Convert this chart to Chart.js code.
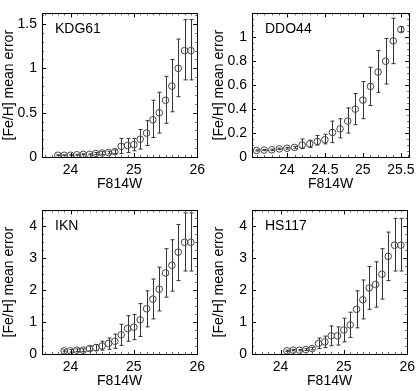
<!DOCTYPE html>
<html>
<head>
<meta charset="utf-8">
<script src="https://cdn.jsdelivr.net/npm/chart.js@4.4.1/dist/chart.umd.min.js"></script>
<style>
    html, body { margin: 0; padding: 0; background: #fff; overflow: hidden; }
    #wrap { position: relative; width: 420px; height: 391px; }
    canvas { position: absolute; }
</style>
</head>
<body>
<div id="wrap">
    <canvas id="kdgChart" width="210" height="195" style="left:0;top:0"></canvas>
    <canvas id="ddoChart" width="210" height="195" style="left:210px;top:0"></canvas>
    <canvas id="iknChart" width="210" height="195" style="left:0;top:197px"></canvas>
    <canvas id="hsChart" width="210" height="195" style="left:210px;top:197px"></canvas>
</div>
<script>
// =========================================
// Data
// =========================================

const kdgMag = [23.8, 23.9, 24.0, 24.1, 24.2, 24.3, 24.4, 24.5, 24.6, 24.7, 24.8,
                24.9, 25.0, 25.1, 25.2, 25.3, 25.4, 25.5, 25.6, 25.7, 25.8, 25.9];
const kdgErr = [0.02, 0.02, 0.02, 0.025, 0.03, 0.03, 0.04, 0.045, 0.05, 0.06, 0.12,
                0.13, 0.14, 0.2, 0.27, 0.42, 0.5, 0.64, 0.8, 1.0, 1.2, 1.2];
const kdgLow = [0.015, 0.015, 0.015, 0.02, 0.025, 0.025, 0.03, 0.03, 0.035, 0.04, 0.04,
                0.05, 0.07, 0.09, 0.13, 0.22, 0.27, 0.38, 0.51, 0.68, 0.87, 0.87];
const kdgHigh = [0.025, 0.025, 0.025, 0.03, 0.035, 0.035, 0.05, 0.06, 0.065, 0.08, 0.21,
                 0.21, 0.21, 0.31, 0.41, 0.64, 0.73, 0.91, 1.1, 1.33, 1.55, 1.55];

const ddoMag = [23.6, 23.7, 23.8, 23.9, 24.0, 24.1, 24.2, 24.3, 24.4, 24.5,
                24.6, 24.7, 24.8, 24.9, 25.0, 25.1, 25.2, 25.3, 25.4, 25.5];
const ddoErr = [0.055, 0.058, 0.06, 0.068, 0.073, 0.08, 0.10, 0.11, 0.13, 0.145,
                0.205, 0.235, 0.30, 0.40, 0.475, 0.59, 0.71, 0.80, 0.97, 1.065];
const ddoLow = [0.05, 0.053, 0.055, 0.062, 0.066, 0.072, 0.07, 0.08, 0.10, 0.11,
                0.12, 0.16, 0.20, 0.27, 0.32, 0.43, 0.54, 0.61, 0.78, 1.045];
const ddoHigh = [0.06, 0.063, 0.065, 0.074, 0.08, 0.088, 0.15, 0.14, 0.18, 0.19,
                 0.30, 0.32, 0.41, 0.53, 0.63, 0.75, 0.89, 0.99, 1.16, 1.09];

const iknMag = [23.9, 24.0, 24.1, 24.2, 24.3, 24.4, 24.5, 24.6, 24.7, 24.8, 24.9,
                25.0, 25.1, 25.2, 25.3, 25.4, 25.5, 25.6, 25.7, 25.8, 25.9];
const iknErr = [0.1, 0.1, 0.12, 0.12, 0.17, 0.2, 0.25, 0.33, 0.4, 0.6, 0.8,
                0.84, 1.07, 1.42, 1.72, 2.03, 2.54, 2.78, 3.19, 3.5, 3.5];
const iknLow = [0.07, 0.06, 0.08, 0.08, 0.1, 0.1, 0.12, 0.15, 0.18, 0.27, 0.4,
                0.45, 0.55, 0.85, 1.1, 1.35, 1.78, 1.97, 2.3, 2.6, 2.6];
const iknHigh = [0.13, 0.14, 0.16, 0.16, 0.25, 0.3, 0.4, 0.5, 0.62, 0.93, 1.2,
                 1.24, 1.58, 1.98, 2.35, 2.72, 3.3, 3.58, 4.06, 4.42, 4.42];

const hsMag = [24.1, 24.2, 24.3, 24.4, 24.5, 24.6, 24.7, 24.8, 24.9, 25.0,
               25.1, 25.2, 25.3, 25.4, 25.5, 25.6, 25.7, 25.8, 25.9];
const hsErr = [0.1, 0.12, 0.12, 0.14, 0.17, 0.33, 0.38, 0.57, 0.57, 0.75,
               0.91, 1.4, 1.7, 2.07, 2.18, 2.5, 3.06, 3.41, 3.41];
const hsLow = [0.08, 0.1, 0.1, 0.11, 0.13, 0.17, 0.2, 0.26, 0.28, 0.38,
               0.52, 0.82, 1.1, 1.4, 1.47, 1.72, 2.3, 2.6, 2.6];
const hsHigh = [0.12, 0.14, 0.14, 0.17, 0.21, 0.5, 0.56, 0.88, 0.85, 1.12,
                1.31, 1.98, 2.32, 2.74, 2.89, 3.3, 3.82, 4.25, 4.25];

// tick labels
const magTicks = [24, 25, 26];
const ddoMagTicks = [24, 24.5, 25, 25.5];
const kdgErrTicks = [0, 0.5, 1, 1.5];
const ddoErrTicks = [0, 0.2, 0.4, 0.6, 0.8, 1];
const bigErrTicks = [0, 1, 2, 3, 4];


// =========================================
// Shared look
// =========================================

Chart.defaults.font.family = "'Liberation Sans', Arial, sans-serif";
Chart.defaults.font.size = 14;
Chart.defaults.color = "#000";

// box, inward ticks, error bars and panel name
const panelDecor = {
    id: "panelDecor",

    beforeDatasetsDraw(chart, args, opts) {
        const ctx = chart.ctx;
        const xs = chart.scales.x;
        const ys = chart.scales.y;
        const pts = chart.data.datasets[0].data;

        ctx.save();
        ctx.strokeStyle = "#333";
        ctx.lineWidth = 1;
        pts.forEach((p, i) => {
            const px = Math.round(xs.getPixelForValue(p.x)) + 0.5;
            const lo = ys.getPixelForValue(opts.low[i]);
            const hi = ys.getPixelForValue(opts.high[i]);
            ctx.beginPath();
            ctx.moveTo(px, lo);
            ctx.lineTo(px, hi);
            ctx.moveTo(px - 2, lo);
            ctx.lineTo(px + 2, lo);
            ctx.moveTo(px - 2, hi);
            ctx.lineTo(px + 2, hi);
            ctx.stroke();
        });
        ctx.restore();
    },

    afterDraw(chart, args, opts) {
        const ctx = chart.ctx;
        const a = chart.chartArea;
        const xs = chart.scales.x;
        const ys = chart.scales.y;

        ctx.save();
        ctx.lineWidth = 1;

        // minor ticks
        ctx.strokeStyle = "#666";
        ctx.beginPath();
        const xStep = opts.xMinor;
        for (let v = Math.ceil(xs.min / xStep) * xStep; v <= xs.max; v += xStep) {
            const px = Math.round(xs.getPixelForValue(v)) + 0.5;
            ctx.moveTo(px, a.bottom);
            ctx.lineTo(px, a.bottom - 2);
            ctx.moveTo(px, a.top);
            ctx.lineTo(px, a.top + 2);
        }
        const yStep = opts.yMinor;
        for (let v = 0; v <= ys.max; v += yStep) {
            const py = Math.round(ys.getPixelForValue(v)) + 0.5;
            ctx.moveTo(a.left, py);
            ctx.lineTo(a.left + 2, py);
            ctx.moveTo(a.right, py);
            ctx.lineTo(a.right - 2, py);
        }
        ctx.stroke();

        // major ticks
        ctx.strokeStyle = "#000";
        ctx.beginPath();
        xs.ticks.forEach(t => {
            const px = Math.round(xs.getPixelForValue(t.value)) + 0.5;
            ctx.moveTo(px, a.bottom);
            ctx.lineTo(px, a.bottom - 4);
            ctx.moveTo(px, a.top);
            ctx.lineTo(px, a.top + 4);
        });
        ys.ticks.forEach(t => {
            const py = Math.round(ys.getPixelForValue(t.value)) + 0.5;
            ctx.moveTo(a.left, py);
            ctx.lineTo(a.left + 4, py);
            ctx.moveTo(a.right, py);
            ctx.lineTo(a.right - 4, py);
        });
        ctx.stroke();

        // box
        ctx.strokeRect(
            Math.round(a.left) + 0.5,
            Math.round(a.top) + 0.5,
            Math.round(a.right - a.left),
            Math.round(a.bottom - a.top)
        );

        // panel name
        ctx.fillStyle = "#000";
        ctx.font = "14px 'Liberation Sans', Arial, sans-serif";
        ctx.textAlign = "left";
        ctx.textBaseline = "middle";
        ctx.fillText(opts.label, a.left + 13, a.top + 16);
        ctx.restore();
    }
};


// =========================================
// Panel builder
// =========================================

function makePanel(canvasId, label, mags, errs, lows, highs,
                   xMin, xMax, xTicks, yMax, yTicks, xMinor, yMinor, padRight) {

    const canvas = document.getElementById(canvasId);
    if (!canvas) return;

    new Chart(canvas, {
        type: "scatter",
        data: {
            datasets: [{
                data: mags.map((m, i) => ({ x: m, y: errs[i] })),
                pointRadius: 3.3,
                pointHoverRadius: 3.3,
                pointBorderWidth: 1,
                pointBorderColor: "#444",
                pointBackgroundColor: "rgba(0,0,0,0)",
                showLine: false
            }]
        },
        options: {
            responsive: false,
            animation: false,
            layout: { padding: { top: 1, right: padRight, left: 0, bottom: 0 } },
            plugins: {
                legend: { display: false },
                tooltip: { enabled: false },
                panelDecor: { label: label, low: lows, high: highs,
                              xMinor: xMinor, yMinor: yMinor }
            },
            scales: {
                x: {
                    type: "linear",
                    min: xMin,
                    max: xMax,
                    grid: { display: false, drawTicks: false },
                    border: { display: false },
                    afterBuildTicks: s => { s.ticks = xTicks.map(v => ({ value: v })); },
                    afterFit: s => { s.height = 38; },
                    ticks: { padding: 5, maxRotation: 0, autoSkip: false,
                             callback: v => String(v) },
                    title: { display: true, text: "F814W", padding: { top: 0, bottom: 2 } }
                },
                y: {
                    type: "linear",
                    min: 0,
                    max: yMax,
                    grid: { display: false, drawTicks: false },
                    border: { display: false },
                    afterBuildTicks: s => { s.ticks = yTicks.map(v => ({ value: v })); },
                    afterFit: s => { s.width = 42; },
                    ticks: { padding: 5, autoSkip: false,
                             callback: v => String(v) },
                    title: { display: true, text: "[Fe/H] mean error", padding: { top: 1, bottom: 0 } }
                }
            }
        },
        plugins: [panelDecor]
    });
}


// =========================================
// Four panels
// =========================================

makePanel("kdgChart", "KDG61", kdgMag, kdgErr, kdgLow, kdgHigh,
          23.55, 26, magTicks, 1.62, kdgErrTicks, 0.1, 0.1, 9);

makePanel("ddoChart", "DDO44", ddoMag, ddoErr, ddoLow, ddoHigh,
          23.54, 25.61, ddoMagTicks, 1.2, ddoErrTicks, 0.1, 0.05, 10);

makePanel("iknChart", "IKN", iknMag, iknErr, iknLow, iknHigh,
          23.55, 26, magTicks, 4.5, bigErrTicks, 0.1, 0.25, 9);

makePanel("hsChart", "HS117", hsMag, hsErr, hsLow, hsHigh,
          23.55, 26, magTicks, 4.5, bigErrTicks, 0.1, 0.25, 10);
</script>
</body>
</html>
